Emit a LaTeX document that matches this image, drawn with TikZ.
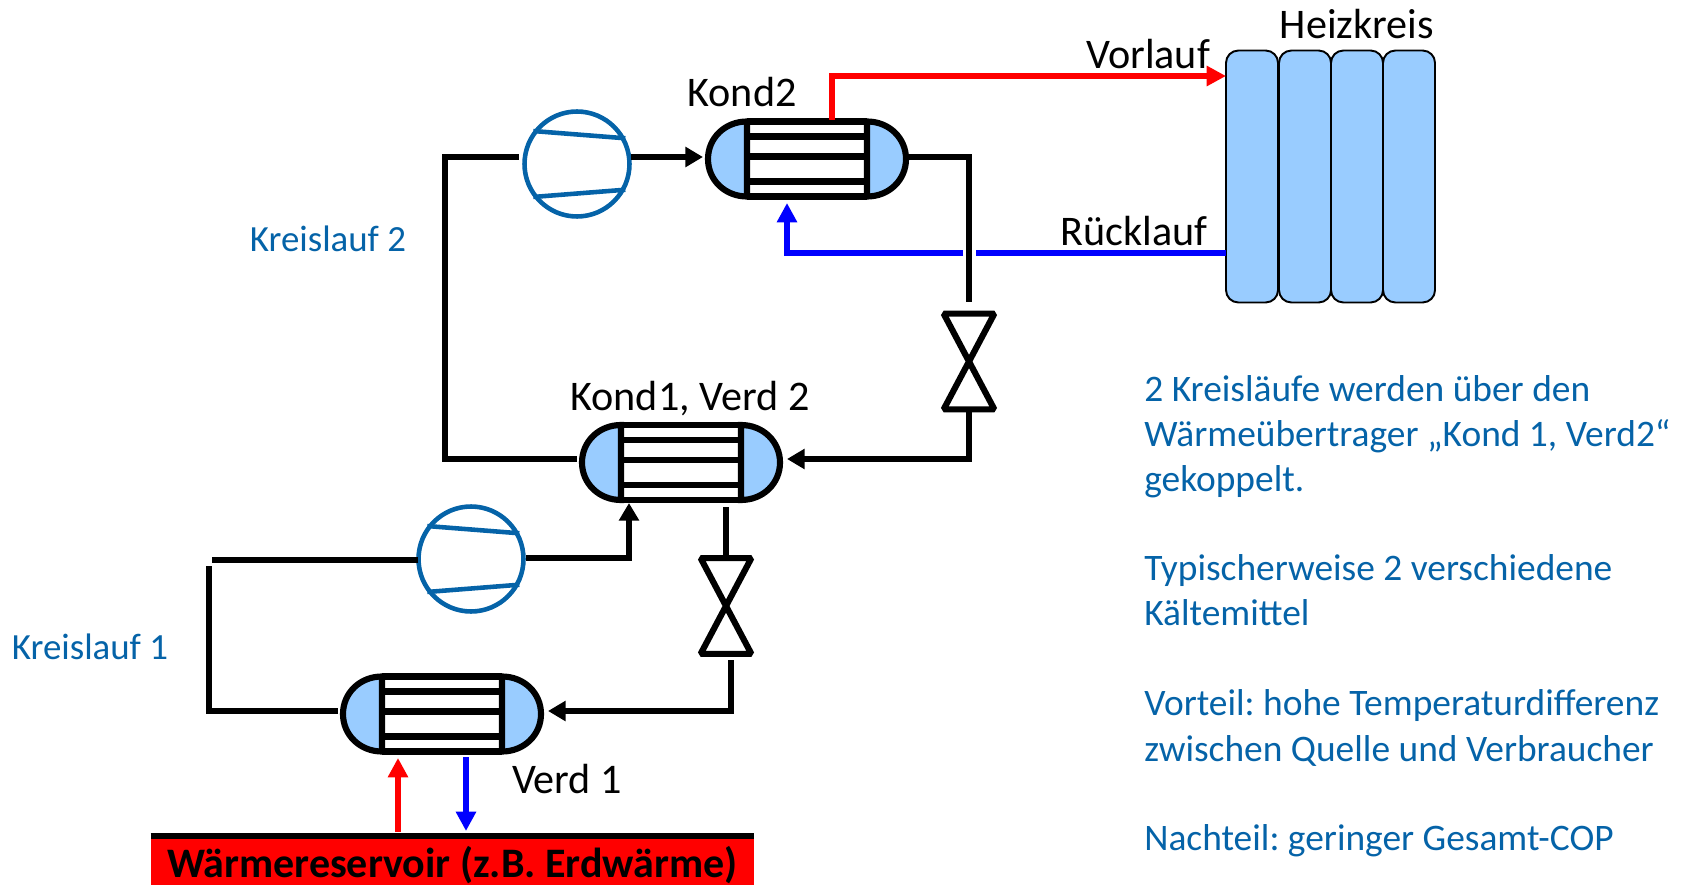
\documentclass[tikz,border=0pt]{standalone}
\usepackage{fontspec}
\setmainfont{Carlito}
\frenchspacing
\usetikzlibrary{arrows.meta}
\definecolor{tauscher}{HTML}{99CCFF}
\definecolor{kreis}{HTML}{0563A8}
\definecolor{rotpipe}{HTML}{FF0000}
\definecolor{blaupipe}{HTML}{0000FF}
\tikzset{
    pipe/.style={line width=3.5pt},
    pipearrow/.style={pipe,-{Triangle[length=10pt,width=11pt]}},
    warm/.style={line width=3.3pt,rotpipe},
    warmarrow/.style={warm,-{Triangle[length=11pt,width=11pt]}},
    kalt/.style={line width=3.3pt,blaupipe},
    kaltarrow/.style={kalt,-{Triangle[length=11pt,width=11pt]}},
    hx/.style={rectangle,inner sep=0pt,minimum width=4.08cm,minimum height=1.62cm},
    komp/.style={circle,draw=kreis,line width=2.6pt,inner sep=0pt,minimum size=2.1cm},
    ventil/.style={rectangle,inner sep=0pt,minimum width=1cm,minimum height=1.9cm},
    rad/.style={rectangle,rounded corners=7pt,draw=black,line width=1.1pt,fill=tauscher,inner sep=0pt,minimum width=1.04cm,minimum height=5.04cm},
    label/.style={font=\fontsize{24}{28}\selectfont},
    kreislabel/.style={font=\fontsize{21}{25}\selectfont,text=kreis},
    blautext/.style={font=\fontsize{21.3}{25.7}\selectfont,text=kreis,align=left,anchor=west,inner sep=0pt},
}
% Waermeuebertrager: Name, x, y
\newcommand{\tauscherhx}[3]{
    \node[hx] (#1) at (#2,#3) {};
    \begin{scope}[shift={(#2,#3)}]
        \draw[pipe,fill=tauscher] (-60,-37.5) .. controls (-82,-37.5) and (-99,-21) .. (-99,0) .. controls (-99,21) and (-82,37.5) .. (-60,37.5) -- cycle;
        \draw[pipe,fill=tauscher] (60,-37.5) .. controls (82,-37.5) and (99,-21) .. (99,0) .. controls (99,21) and (82,37.5) .. (60,37.5) -- cycle;
        \foreach \y in {-37.5,-22.5,-2.5,22.5,37.5}
            \draw[pipe] (-60,\y) -- (60,\y);
    \end{scope}
}
\begin{document}
\begin{tikzpicture}[x=0.02cm,y=-0.02cm]
    \useasboundingbox (0,0) rectangle (1691,885);

    % Heizkreis
    \foreach \i/\x in {1/1252,2/1305,3/1357,4/1409}
        \node[rad] (rad\i) at (\x,176.5) {};
    \node[label] (heizkreis) at (1357,24) {Heizkreis};
    \node[label] (vorlauf) at (1148,54) {Vorlauf};
    \node[label] (ruecklauf) at (1134,231) {Rücklauf};

    % Apparate
    \tauscherhx{kond2}{807}{159}
    \tauscherhx{kond1}{681}{462.5}
    \tauscherhx{verd1}{442}{714}
    \node[komp] (komp2) at (577,164) {};
    \node[komp] (komp1) at (471,559) {};
    \foreach \k in {komp1,komp2}{
        \draw[kreis,line width=2.6pt] (\k.143) -- (\k.28);
        \draw[kreis,line width=2.6pt] (\k.217) -- (\k.-28);
    }
    \node[ventil] (ventil2) at (969,361.5) {};
    \node[ventil] (ventil1) at (726,606) {};
    \foreach \v in {ventil1,ventil2}
        \draw[pipe,line join=bevel] (\v.north west) -- (\v.south east) -- (\v.south west) -- (\v.north east) -- cycle;

    \node[rectangle,fill=rotpipe,inner sep=0pt,minimum width=12.06cm,minimum height=0.97cm,text height=21pt,text depth=2pt,font=\fontsize{23.9}{28}\bfseries\selectfont] (reservoir) at (452.5,860.75) {Wärmereservoir (z.B. Erdwärme)};
    \draw[pipe] (reservoir.north west) -- (reservoir.north east);

    % Kreislauf 2
    \coordinate (k2ecke1) at (445,459);
    \coordinate (k2ecke2) at (445,157);
    \coordinate (k2ein) at (519,157);
    \coordinate (k2aus) at (631,157);
    \coordinate (k2ziel) at (703,157);
    \coordinate (k2ecke3) at (969,157);
    \coordinate (k2stopp) at (969,302);
    \coordinate (k2ende) at (969,459);
    \coordinate (k2spitze) at (787,459);
    \coordinate (k2start) at (577,459);
    \draw[pipe] (k2start) -- (k2ecke1) -- (k2ecke2) -- (k2ein);
    \draw[pipearrow] (k2aus) -- (k2ziel);
    \draw[pipe] (kond2.east |- k2ecke3) -- (k2ecke3) -- (k2stopp);
    \draw[pipearrow] (ventil2.south) -- (k2ende) -- (k2spitze);

    % Kreislauf 1
    \coordinate (k1ein) at (418,560);
    \coordinate (k1ecke1) at (212,560);
    \coordinate (k1ecke2) at (209,566);
    \coordinate (k1ecke3) at (209,711);
    \coordinate (k1ende) at (338,711);
    \coordinate (k1aus) at (526,558);
    \coordinate (k1ecke4) at (629,558);
    \coordinate (k1ziel) at (629,503);
    \coordinate (k1ventil) at (726,507);
    \coordinate (k1unten) at (731,660);
    \coordinate (k1ecke5) at (731,711);
    \coordinate (k1spitze) at (548,711);
    \draw[pipe] (k1ein) -- (k1ecke1);
    \draw[pipe] (k1ecke2) -- (k1ecke3) -- (k1ende);
    \draw[pipearrow] (k1aus) -- (k1ecke4) -- (k1ziel);
    \draw[pipe] (k1ventil) -- (ventil1.north);
    \draw[pipearrow] (k1unten) -- (k1ecke5) -- (k1spitze);

    % Heizwasser
    \coordinate (vlab) at (832,120);
    \coordinate (vlecke) at (832,76);
    \coordinate (vlein) at (1226,76);
    \coordinate (rlaus) at (1226,253);
    \coordinate (rlluecke1) at (976,253);
    \coordinate (rlluecke2) at (963,253);
    \coordinate (rlecke) at (787,253);
    \coordinate (rlziel) at (787,203);
    \draw[warmarrow] (vlab) -- (vlecke) -- (vlein);
    \draw[kalt] (rlaus) -- (rlluecke1);
    \draw[kaltarrow] (rlluecke2) -- (rlecke) -- (rlziel);

    % Reservoir
    \coordinate (resrot) at (398,832);
    \coordinate (verdrot) at (398,758);
    \coordinate (verdblau) at (466,757);
    \coordinate (resblau) at (466,831);
    \draw[warmarrow] (resrot) -- (verdrot);
    \draw[kaltarrow] (verdblau) -- (resblau);

    \node[label] (kond2text) at (742,92) {Kond2};
    \node[label] (kond1text) at (690,399) {Kond1, Verd 2};
    \node[label] (verd1text) at (567,779) {Verd 1};
    \node[kreislabel] (kreislauf2) at (328,239) {Kreislauf 2};
    \node[kreislabel] (kreislauf1) at (90,647) {Kreislauf 1};

    \node[blautext] (text1) at (1144,437) {2 Kreisläufe werden über den\\Wärmeübertrager „Kond 1, Verd2“\\gekoppelt.};
    \node[blautext] (text2) at (1144,590) {Typischerweise 2 verschiedene\\Kältemittel};
    \node[blautext] (text3) at (1144,728) {Vorteil: hohe Temperaturdifferenz\\zwischen Quelle und Verbraucher};
    \node[blautext] (text4) at (1144,841) {Nachteil: geringer Gesamt-COP};
\end{tikzpicture}
\end{document}
